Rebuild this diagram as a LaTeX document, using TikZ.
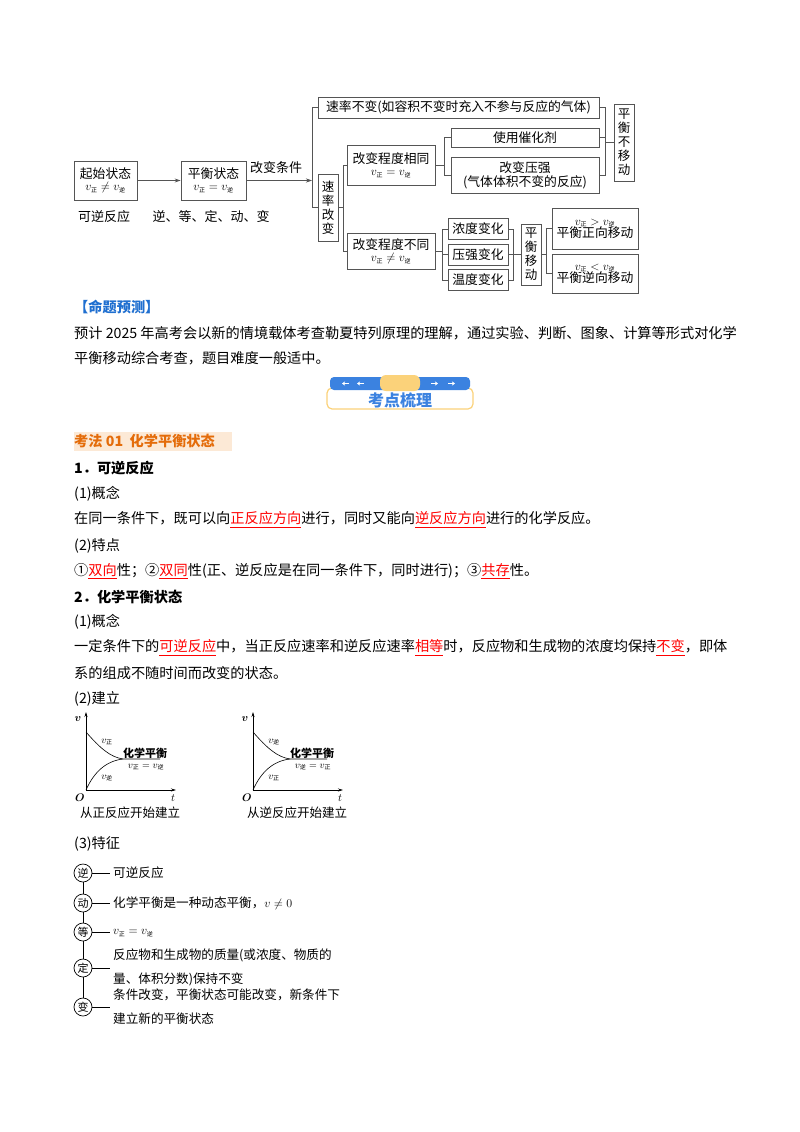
\documentclass[tikz,border=0pt]{standalone}
\usepackage{amsmath}
\usepackage{fontspec}
\setmainfont{Noto Sans CJK SC}
\usetikzlibrary{arrows.meta}
\definecolor{bxc}{HTML}{555555}
\definecolor{tblue}{HTML}{1F6FD0}
\definecolor{torange}{HTML}{E46C0A}
\definecolor{tbg}{HTML}{FCE9D6}
\definecolor{bnblue}{HTML}{3B82E0}
\definecolor{bnyel}{HTML}{FBD27A}
\newcommand\hlr[1]{\textcolor{red}{\underline{#1}}}
\newcommand\vsub[1]{v_{\text{\fontsize{6}{6}\selectfont #1}}}
\tikzset{
  bx/.style={draw=bxc,line width=0.8pt,inner sep=0pt,align=center,font=\fontsize{12.8}{14}\selectfont},
  ln/.style={draw=bxc,line width=0.8pt},
  arr/.style={draw=bxc,line width=0.8pt,-{Stealth[length=6pt,width=4pt]}},
  txt/.style={anchor=west,inner sep=0pt,font=\fontsize{14.2}{16}\selectfont},
  gl/.style={inner sep=0pt,font=\fontsize{10}{12}\selectfont},
  ft/.style={anchor=west,inner sep=0pt,align=left,font=\fontsize{12.6}{24}\selectfont},
  cir/.style={circle,draw=black,line width=0.7pt,minimum size=18pt,inner sep=0pt,font=\fontsize{11}{12}\selectfont}
}
\begin{document}
\begin{tikzpicture}[x=1pt,y=-1pt]
\useasboundingbox[fill=white] (0,0) rectangle (800,1132);
% ---- top diagram
\node[bx,minimum width=63,minimum height=39] (qs) at (105.5,180.5) {起始状态\\[-2pt]$\vsub{正}\neq\vsub{逆}$};
\node[bx,minimum width=65,minimum height=39] (ph) at (213.5,180.5) {平衡状态\\[-2pt]$\vsub{正}=\vsub{逆}$};
\node[bx,minimum width=20,minimum height=67,font=\fontsize{12.5}{14}\selectfont] (sl) at (328,207.5) {速\\率\\改\\变};
\node[bx,minimum width=281,minimum height=21] (bb) at (458.5,107.5) {速率不变(如容积不变时充入不参与反应的气体)};
\node[bx,minimum width=88,minimum height=40] (xt) at (391,165) {改变程度相同\\[-2pt]$\vsub{正}=\vsub{逆}$};
\node[bx,minimum width=88,minimum height=36] (bt) at (391,251.5) {改变程度不同\\[-2pt]$\vsub{正}\neq\vsub{逆}$};
\node[bx,minimum width=148,minimum height=19] (ch) at (525,137.5) {使用催化剂};
\node[bx,minimum width=148,minimum height=36] (yq) at (525,175) {改变压强\\(气体体积不变的反应)};
\node[bx,minimum width=20,minimum height=77,font=\fontsize{12.5}{14}\selectfont] (bbd) at (624,142.5) {平\\衡\\不\\移\\动};
\node[bx,minimum width=60,minimum height=21] (nd) at (478,229) {浓度变化};
\node[bx,minimum width=60,minimum height=21] (yb) at (478,254.5) {压强变化};
\node[bx,minimum width=60,minimum height=21] (wd) at (478,280) {温度变化};
\node[bx,minimum width=20,minimum height=61,font=\fontsize{12.5}{14}\selectfont] (py) at (531,254.5) {平\\衡\\移\\动};
\node[bx,minimum width=86,minimum height=41] (zx) at (595,228.5) {$\vsub{正}>\vsub{逆}$\\[-2pt]平衡正向移动};
\node[bx,minimum width=86,minimum height=39] (nx) at (595,273.5) {$\vsub{正}<\vsub{逆}$\\[-2pt]平衡逆向移动};
\node[gl,font=\fontsize{13}{14}\selectfont] (lab1) at (104,217) {可逆反应};
\node[gl,font=\fontsize{13}{14}\selectfont] (lab2) at (211,217) {逆、等、定、动、变};
\node[gl,font=\fontsize{13}{14}\selectfont] (lab3) at (276,168) {改变条件};
\coordinate (b1) at (312,180.5);
\draw[arr] (qs.east) -- (ph.west);
\draw[arr] (ph.east) -- (b1);
\draw[ln] (bb.west) -- (312,107.5) -- (312,207.5) -- (sl.west);
\draw[ln] (sl.east) -- (343,207.5);
\draw[ln] (xt.west) -- (343,165) -- (343,251.5) -- (bt.west);
\draw[ln] (xt.east) -- (444,165);
\draw[ln] (ch.west) -- (444,137.5) -- (444,175) -- (yq.west);
\draw[ln] (bb.east) -- (605,107.5) -- (605,175) -- (yq.east);
\draw[ln] (ch.east) -- (605,137.5);
\draw[ln] (605,142.5) -- (bbd.west);
\draw[ln] (bt.east) -- (442,251.5);
\draw[ln] (nd.west) -- (442,229) -- (442,280) -- (wd.west);
\draw[ln] (yb.west) -- (442,254.5);
\draw[ln] (nd.east) -- (513,229) -- (513,280) -- (wd.east);
\draw[ln] (yb.east) -- (py.west);
\draw[ln] (py.east) -- (546,254.5);
\draw[ln] (zx.west) -- (546,228.5) -- (546,273.5) -- (nx.west);
% ---- text
\node[txt,text=tblue,font=\fontsize{14.2}{16}\bfseries] (t1) at (74,307) {【命题预测】};
\node[txt] (t2) at (74,333) {预计 2025 年高考会以新的情境载体考查勒夏特列原理的理解，通过实验、判断、图象、计算等形式对化学};
\node[txt] (t3) at (74,358) {平衡移动综合考查，题目难度一般适中。};
% banner
\draw[draw=bnyel,line width=1.2pt,fill=white,rounded corners=5pt] (327,388) rectangle (473,409);
\fill[bnblue,rounded corners=4pt] (330,377) rectangle (470,390);
\fill[bnyel,rounded corners=6pt] (380,375) rectangle (420,391);
\foreach \xx in {345,360} \draw[white,line width=0.8pt,-{Stealth[length=3pt,width=4pt]}] (\xx+4,383.5)--(\xx-3,383.5);
\foreach \xx in {435,452} \draw[white,line width=0.8pt,-{Stealth[length=3pt,width=4pt]}] (\xx-4,383.5)--(\xx+3,383.5);
\node[inner sep=0pt,text=bnblue,font=\fontsize{16}{18}\bfseries] (bn) at (400,400) {考点梳理};
\fill[tbg] (74,432) rectangle (232,451);
\node[txt,text=torange,font=\fontsize{14.2}{16}\bfseries] (h1) at (74,441.5) {考法 01 \ 化学平衡状态};
\node[txt,font=\fontsize{14.2}{16}\bfseries] (h2) at (74,468) {1．可逆反应};
\node[txt] (t4) at (74,494) {(1)概念};
\node[txt] (t5) at (74,520) {在同一条件下，既可以向\hlr{正反应方向}进行，同时又能向\hlr{逆反应方向}进行的化学反应。};
\node[txt] (t6) at (74,546) {(2)特点};
\node[txt] (t7) at (74,571) {①\hlr{双向}性；②\hlr{双同}性(正、逆反应是在同一条件下，同时进行)；③\hlr{共存}性。};
\node[txt,font=\fontsize{14.2}{16}\bfseries] (h3) at (74,597) {2．化学平衡状态};
\node[txt] (t8) at (74,622) {(1)概念};
\node[txt] (t9) at (74,648) {一定条件下的\hlr{可逆反应}中，当正反应速率和逆反应速率\hlr{相等}时，反应物和生成物的浓度均保持\hlr{不变}，即体};
\node[txt] (t10) at (74,673) {系的组成不随时间而改变的状态。};
\node[txt] (t11) at (74,699) {(2)建立};
% ---- graphs
\foreach \dx/\ta/\tb/\nm in {0/正/逆/从正反应开始建立,167/逆/正/从逆反应开始建立}{
  \begin{scope}[xshift=\dx]
  \draw[line width=0.7pt,-{Stealth[length=5pt,width=3pt]}] (86,790) -- (86,712);
  \draw[line width=0.7pt,-{Stealth[length=5pt,width=3pt]}] (86,790) -- (176,790);
  \draw[line width=0.6pt] (86,732) .. controls (100,748) and (110,757) .. (123,759) -- (160,759);
  \draw[line width=0.6pt] (86,790) .. controls (94,772) and (106,761) .. (123,759);
  \node[gl,font=\fontsize{11}{12}\selectfont] at (78,719) {$\boldsymbol{v}$};
  \node[gl,font=\fontsize{11}{12}\selectfont] at (80,798) {$\boldsymbol{O}$};
  \node[gl,font=\fontsize{11}{12}\selectfont] at (173,798) {$t$};
  \node[gl] at (107,742) {$\vsub{\ta}$};
  \node[gl] at (107,778) {$\vsub{\tb}$};
  \node[gl,font=\fontsize{11}{12}\bfseries] at (145,753) {化学平衡};
  \node[gl] at (146,767) {$\vsub{\ta}=\vsub{\tb}$};
  \node[gl,font=\fontsize{12.5}{14}\selectfont] at (130,813) {\nm};
  \end{scope}
}
\node[txt] (t12) at (74,844) {(3)特征};
% ---- features
\node[cir] (c1) at (83,873) {逆};
\node[cir] (c2) at (83,903) {动};
\node[cir] (c3) at (83,932) {等};
\node[cir] (c4) at (83,968) {定};
\node[cir] (c5) at (83,1007) {变};
\draw[line width=0.7pt] (c1.south)--(c2.north) (c2.south)--(c3.north) (c3.south)--(c4.north) (c4.south)--(c5.north);
\foreach \c/\yy in {c1/873,c2/903,c3/932,c4/968,c5/1007}{
  \coordinate (e\c) at (110,\yy);
  \draw[line width=0.7pt] (\c.east) -- (e\c);
}
\node[ft] (f1) at (113,873) {可逆反应};
\node[ft] (f2) at (113,903) {化学平衡是一种动态平衡，$v\neq0$};
\node[ft] (f3) at (113,933) {$\vsub{正}=\vsub{逆}$};
\node[ft] (f4) at (113,967) {反应物和生成物的质量(或浓度、物质的\\量、体积分数)保持不变};
\node[ft] (f5) at (113,1007) {条件改变，平衡状态可能改变，新条件下\\建立新的平衡状态};
\end{tikzpicture}
\end{document}
